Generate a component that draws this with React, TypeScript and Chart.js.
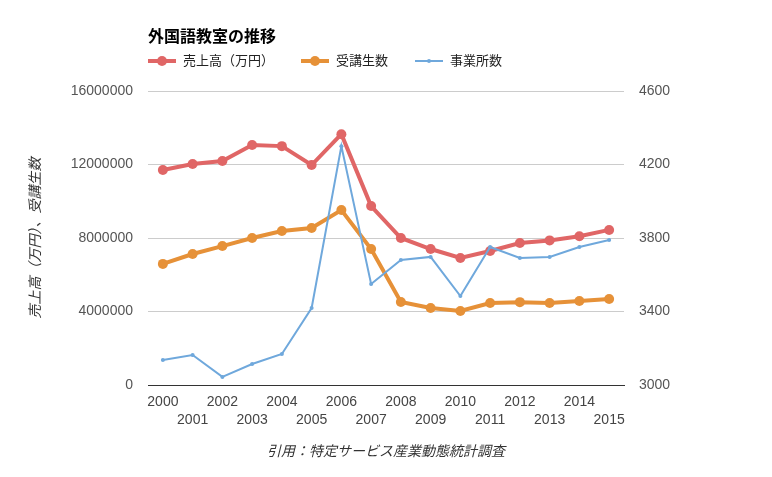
import React, { useEffect, useRef } from "react";
import { Chart, registerables } from "chart.js";

Chart.register(...registerables);

const FONT = "'Liberation Sans', Arial, 'Noto Sans CJK JP', sans-serif";

const titleText = "外国語教室の推移";
const yTitleText = "売上高（万円）、受講生数";
const xTitleText = "引用：特定サービス産業動態統計調査";

const years = ["2000", "2001", "2002", "2003", "2004", "2005", "2006", "2007", "2008", "2009", "2010", "2011", "2012", "2013", "2014", "2015"];

const salesLabel = "売上高（万円）";
const sales = [11700000, 12030000, 12190000, 13060000, 13000000, 11970000, 13650000, 9740000, 8000000, 7400000, 6910000, 7290000, 7730000, 7870000, 8100000, 8440000];

const studentsLabel = "受講生数";
const students = [6590000, 7130000, 7560000, 8000000, 8380000, 8540000, 9520000, 7400000, 4520000, 4190000, 4030000, 4460000, 4510000, 4460000, 4570000, 4680000];

const officesLabel = "事業所数";
const offices = [3136, 3163, 3044, 3114, 3169, 3419, 4300, 3550, 3680, 3697, 3484, 3751, 3691, 3697, 3751, 3789];

const leftMin = 0;
const leftMax = 16000000;
const leftStep = 4000000;
const rightMin = 3000;
const rightMax = 4600;
const rightStep = 400;

const headerPlugin = {
  id: "header",
  afterDraw(chart: any) {
    const ctx = chart.ctx;
    const left = chart.chartArea.left;
    ctx.save();
    ctx.textBaseline = "middle";
    ctx.textAlign = "left";
    ctx.fillStyle = "#000";
    ctx.font = `bold 16px ${FONT}`;
    ctx.fillText(titleText, left, 38);

    ctx.font = `13px ${FONT}`;
    let x = left;
    const y = 61;
    chart.data.datasets.forEach((ds: any) => {
      ctx.strokeStyle = ds.borderColor;
      ctx.fillStyle = ds.borderColor;
      ctx.lineWidth = ds.borderWidth;
      ctx.beginPath();
      ctx.moveTo(x, y);
      ctx.lineTo(x + 28, y);
      ctx.stroke();
      ctx.beginPath();
      ctx.arc(x + 14, y, ds.pointRadius, 0, Math.PI * 2);
      ctx.fill();
      ctx.fillStyle = "#222";
      ctx.fillText(ds.label, x + 35, y);
      const w = ctx.measureText(ds.label).width;
      x = x + 35 + w + 27;
    });
    ctx.restore();
  },
};

export default function App() {
  const ref = useRef<HTMLCanvasElement | null>(null);

  useEffect(() => {
    if (!ref.current) return;
    Chart.defaults.font.family = FONT;
    const chart = new Chart(ref.current, {
      type: "line",
      data: {
        labels: years,
        datasets: [
          {
            label: salesLabel,
            data: sales,
            borderColor: "#e06666",
            backgroundColor: "#e06666",
            borderWidth: 4,
            pointRadius: 5,
            pointBorderWidth: 0,
            yAxisID: "y",
            order: 2,
          },
          {
            label: studentsLabel,
            data: students,
            borderColor: "#e69138",
            backgroundColor: "#e69138",
            borderWidth: 4,
            pointRadius: 5,
            pointBorderWidth: 0,
            yAxisID: "y",
            order: 1,
          },
          {
            label: officesLabel,
            data: offices,
            borderColor: "#6fa8dc",
            backgroundColor: "#6fa8dc",
            borderWidth: 2,
            pointRadius: 2,
            pointBorderWidth: 0,
            yAxisID: "y1",
            order: 0,
          },
        ],
      },
      options: {
        responsive: false,
        animation: false,
        devicePixelRatio: 1,
        layout: { padding: { top: 91, left: 0, right: 0, bottom: 0 } },
        plugins: {
          legend: { display: false },
          title: { display: false },
          tooltip: { enabled: false },
        },
        scales: {
          x: {
            type: "category",
            offset: true,
            grid: { display: false, drawTicks: false },
            border: { display: true, color: "#333", width: 1 },
            ticks: {
              autoSkip: false,
              maxRotation: 0,
              minRotation: 0,
              padding: 8,
              color: "#444",
              font: { size: 14, lineHeight: 1.3 },
              callback: (_v: any, i: number) => (i % 2 === 0 ? years[i] : ["", years[i]]),
            },
            title: {
              display: true,
              text: xTitleText,
              color: "#333",
              font: { size: 14, style: "italic" },
              padding: { top: 0, bottom: 16 },
            },
            afterFit: (scale: any) => {
              scale.height = 92;
            },
          },
          y: {
            position: "left",
            min: leftMin,
            max: leftMax,
            grid: {
              drawTicks: false,
              color: (c: any) => (c.tick && c.tick.value === 0 ? "#333" : "#ccc"),
            },
            border: { display: false },
            ticks: {
              stepSize: leftStep,
              padding: 15,
              color: "#555",
              font: { size: 14 },
              callback: (v: any) => String(v),
            },
            title: {
              display: true,
              text: yTitleText,
              color: "#333",
              font: { size: 14, style: "italic", family: "'Noto Sans CJK JP', sans-serif", lineHeight: 1.2 },
              padding: { top: 26, bottom: 0 },
            },
            afterFit: (scale: any) => {
              scale.width = 148;
            },
          },
          y1: {
            position: "right",
            min: rightMin,
            max: rightMax,
            grid: { display: false, drawTicks: false },
            border: { display: false },
            ticks: {
              stepSize: rightStep,
              padding: 15,
              color: "#555",
              font: { size: 14 },
              callback: (v: any) => String(v),
            },
            afterFit: (scale: any) => {
              scale.width = 148;
            },
          },
        },
      },
      plugins: [headerPlugin],
    } as any);
    return () => chart.destroy();
  }, []);

  return (
    <div style={{ position: "fixed", left: 0, top: 0, width: 772, height: 477, background: "#fff" }}>
      <canvas ref={ref} width={772} height={477} style={{ display: "block" }} />
    </div>
  );
}
